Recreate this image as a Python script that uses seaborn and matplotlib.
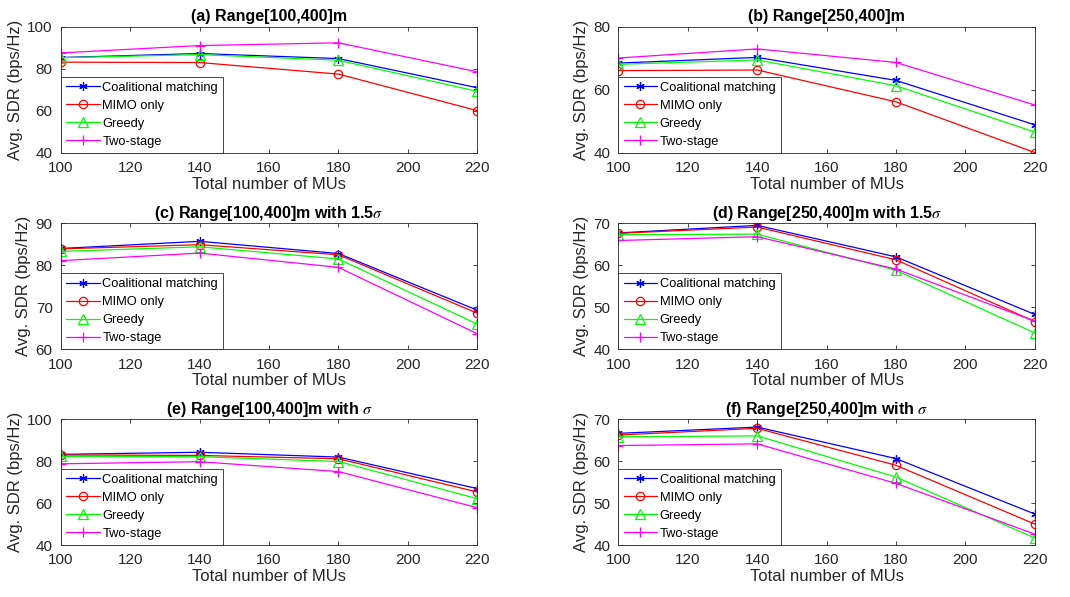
import numpy as np
import pandas as pd
import matplotlib
matplotlib.use("Agg")
import matplotlib.pyplot as plt
import seaborn as sns

# ---------------- data ----------------
mus = [100, 140, 180, 220]
series_names = ["Coalitional matching", "MIMO only", "Greedy", "Two-stage"]

titles = [
    "(a) Range[100,400]m",
    "(b) Range[250,400]m",
    "(c) Range[100,400]m with 1.5$\\sigma$",
    "(d) Range[250,400]m with 1.5$\\sigma$",
    "(e) Range[100,400]m with $\\sigma$",
    "(f) Range[250,400]m with $\\sigma$",
]

# (a)
a_coal = [85.4, 87.3, 84.9, 71.0]
a_mimo = [83.2, 83.0, 77.5, 60.1]
a_greedy = [85.3, 86.8, 84.1, 69.3]
a_two = [87.6, 91.1, 92.4, 78.6]
# (b)
b_coal = [68.5, 70.3, 63.0, 48.9]
b_mimo = [66.1, 66.3, 56.2, 40.1]
b_greedy = [68.1, 69.5, 61.3, 46.6]
b_two = [70.1, 73.0, 68.7, 55.2]
# (c)
c_coal = [84.0, 85.7, 82.8, 69.3]
c_mimo = [83.9, 84.9, 82.5, 68.6]
c_greedy = [83.3, 84.4, 81.5, 66.0]
c_two = [81.1, 82.9, 79.5, 63.7]
# (d)
d_coal = [67.7, 69.5, 62.0, 48.3]
d_mimo = [67.6, 69.1, 61.3, 46.6]
d_greedy = [67.3, 67.4, 58.8, 43.9]
d_two = [65.9, 66.8, 59.1, 46.7]
# (e)
e_coal = [83.2, 84.2, 81.9, 66.9]
e_mimo = [82.9, 82.7, 81.1, 65.3]
e_greedy = [82.2, 82.1, 79.8, 62.1]
e_two = [78.7, 79.7, 75.0, 57.8]
# (f)
f_coal = [66.6, 68.1, 60.6, 47.4]
f_mimo = [66.2, 67.8, 59.0, 45.0]
f_greedy = [65.8, 66.0, 56.2, 41.7]
f_two = [63.7, 64.1, 54.7, 42.6]

panel_data = [
    [a_coal, a_mimo, a_greedy, a_two],
    [b_coal, b_mimo, b_greedy, b_two],
    [c_coal, c_mimo, c_greedy, c_two],
    [d_coal, d_mimo, d_greedy, d_two],
    [e_coal, e_mimo, e_greedy, e_two],
    [f_coal, f_mimo, f_greedy, f_two],
]
ylims = [(40, 100), (40, 80), (60, 90), (40, 70), (40, 100), (40, 70)]
yticks = [[40, 60, 80, 100], [40, 60, 80], [60, 70, 80, 90],
          [40, 50, 60, 70], [40, 60, 80, 100], [40, 50, 60, 70]]
xticks = [100, 120, 140, 160, 180, 200, 220]

# ---------------- style ----------------
sns.set_style("ticks")
plt.rcParams["font.family"] = ["Liberation Sans", "DejaVu Sans"]
plt.rcParams["mathtext.fontset"] = "stix"
txt = "#262626"

colors = ["#0000ff", "#ff0000", "#00ff00", "#ff00ff"]
markers = [(6, 2, 0), "o", "^", "+"]
msizes = [6, 6, 7, 7]

fig = plt.figure(figsize=(10.7, 5.97), dpi=100)
lefts = [0.057, 0.578]
bottoms = [0.744, 0.415, 0.087]
w, h = 0.389, 0.211

for i in range(6):
    r, c = divmod(i, 2)
    ax = fig.add_axes([lefts[c], bottoms[r], w, h])
    for k, name in enumerate(series_names):
        df = pd.DataFrame({"MUs": mus, "SDR": panel_data[i][k]})
        sns.lineplot(data=df, x="MUs", y="SDR", ax=ax, color=colors[k],
                     marker=markers[k], markersize=msizes[k],
                     markerfacecolor="none", markeredgecolor=colors[k],
                     markeredgewidth=0.9, linewidth=0.9, label=name)
    ax.set_xlim(100, 220)
    ax.set_ylim(*ylims[i])
    ax.set_xticks(xticks)
    ax.set_yticks(yticks[i])
    ax.set_xlabel("Total number of MUs", fontsize=12, color=txt, labelpad=1)
    ax.set_ylabel("Avg. SDR (bps/Hz)", fontsize=12, color=txt, labelpad=3)
    ax.set_title(titles[i], fontsize=11.5, fontweight="bold", color="black", pad=4)
    ax.tick_params(direction="in", top=True, right=True, labelsize=11,
                   colors=txt, length=3, width=0.6, pad=6)
    for sp in ax.spines.values():
        sp.set_visible(True)
        sp.set_color(txt)
        sp.set_linewidth(0.6)
    leg = ax.legend(loc="lower left", fontsize=9.3, frameon=True, fancybox=False,
                    borderaxespad=0.0, handlelength=2.6, handletextpad=0.2,
                    labelspacing=0.46, borderpad=0.4, framealpha=1)
    leg.get_frame().set_edgecolor(txt)
    leg.get_frame().set_linewidth(0.6)
    for t in leg.get_texts():
        t.set_color("black")

fig.savefig("out.png", dpi=100)
